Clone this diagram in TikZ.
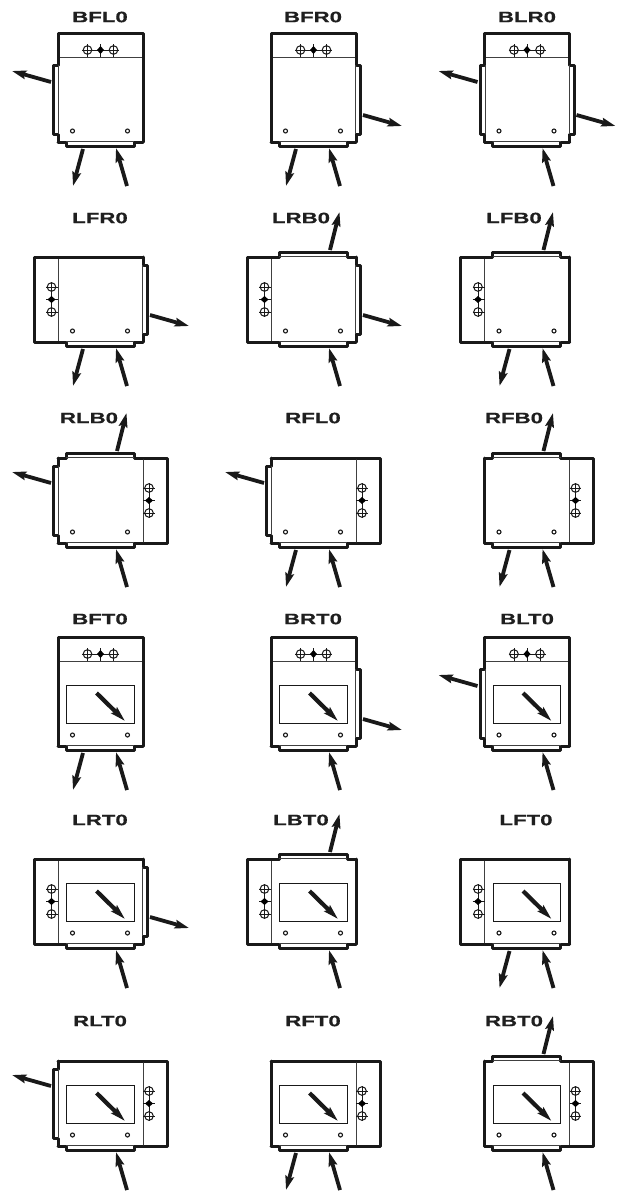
\documentclass[tikz,border=0pt]{standalone}
\usepackage{fontspec}
\setmainfont{Liberation Sans}
\newfontfamily\lblfont[FakeStretch=1.48,FakeBold=0.6]{Liberation Sans Bold}
\usetikzlibrary{arrows.meta}
\tikzset{
  heavy/.style={line width=3pt,line join=round,line cap=round,black!90},
  hair/.style={line width=1pt,black!75},
  fine/.style={line width=1pt,black!90},
  flow/.style={line width=3.8pt,black!90,-{Stealth[length=14pt,width=8.5pt,inset=2pt]}},
  needle/.style={line width=4.2pt,black!90,-{Stealth[length=15pt,width=8pt,inset=2pt]}},
  tag/.style={font=\lblfont\fontsize{15}{15}\selectfont,inner sep=0pt,text=black!88},
  hole/.style={line width=1.1pt,black!90,fill=white}
}
% sides of the body square (origin at its top-left corner, 85 wide)
\newcommand{\plainT}{\draw[heavy] (0,0)--(85,0);}
\newcommand{\plainB}{\draw[heavy] (0,85)--(85,85);}
\newcommand{\plainL}{\draw[heavy] (0,0)--(0,85);}
\newcommand{\plainR}{\draw[heavy] (85,0)--(85,85);}
\newcommand{\brT}{\draw[heavy] (0,0)--(8,0)--(8,-4.5)--(76,-4.5)--(76,0)--(85,0);\draw[hair] (8,-.5)--(76,-.5);}
\newcommand{\brB}{\draw[heavy] (0,85)--(8,85)--(8,89.5)--(76,89.5)--(76,85)--(85,85);\draw[hair] (8,84.5)--(76,84.5);}
\newcommand{\brL}{\draw[heavy] (0,0)--(0,8)--(-4.5,8)--(-4.5,77)--(0,77)--(0,85);\draw[hair] (.5,8)--(.5,77);}
\newcommand{\brR}{\draw[heavy] (85,0)--(85,8)--(89.5,8)--(89.5,77)--(85,77)--(85,85);\draw[hair] (84.5,8)--(84.5,77);}
\newcommand{\bandT}{%
  \draw[heavy] (0,0)--(0,-24)--(85,-24)--(85,0);
  \draw[hair] (0,0)--(85,0);
  \foreach \cx in {29.5,55.5}{\draw[fine] (\cx,-7) circle (4.3); \draw[fine] (\cx,-13)--(\cx,0);}
  \draw[fine] (24,-7)--(61,-7) (42.5,-13)--(42.5,0);
  \fill (42.5,-11)--(46,-7)--(42.5,-3)--(39,-7)--cycle;
}
\newcommand{\bandL}{%
  \draw[heavy] (0,0)--(-24,0)--(-24,85)--(0,85);
  \draw[hair] (0,0)--(0,85);
  \foreach \cy in {30,55}{\draw[fine] (-6.5,\cy) circle (4.3); \draw[fine] (-12,\cy)--(0,\cy);}
  \draw[fine] (-6.5,25)--(-6.5,60) (-12,42.5)--(0,42.5);
  \fill (-6.5,39)--(-2.5,42.5)--(-6.5,46)--(-10.5,42.5)--cycle;
}
\newcommand{\bandR}{%
  \draw[heavy] (85,0)--(109,0)--(109,85)--(85,85);
  \draw[hair] (85,0)--(85,85);
  \foreach \cy in {30,55}{\draw[fine] (91,\cy) circle (4.3); \draw[fine] (85,\cy)--(96.5,\cy);}
  \draw[fine] (91,25)--(91,60) (85,42.5)--(96.5,42.5);
  \fill (91,39)--(95,42.5)--(91,46)--(87,42.5)--cycle;
}
\newcommand{\arw}[5]{%
  \coordinate (\uname-#1-s) at (#2,#3);
  \coordinate (\uname-#1-e) at (#4,#5);
  \draw[flow] (\uname-#1-s) -- (\uname-#1-e);}
\newcommand{\arL}{\arw{left}{-7}{25}{-46}{14}}
\newcommand{\arR}{\arw{right}{92}{58}{131}{69}}
\newcommand{\arU}{\arw{up}{59}{-7}{68.5}{-45}}
\newcommand{\arO}{\arw{out}{25}{92}{15}{129}}
\newcommand{\arI}{\arw{in}{69}{129}{58}{91}}
\newcommand{\win}{%
  \draw[fine] (8.5,24) rectangle (76,62);
  \coordinate (\uname-n-s) at (38.5,32);
  \coordinate (\uname-n-e) at (67,60);
  \draw[needle] (\uname-n-s) -- (\uname-n-e);}
% #1 name, #2 x0, #3 y0, #4 label x, #5 label y, #6 feature list
\newcommand{\unit}[6]{%
  \node[tag] (lbl-#1) at (#4,#5) {#1};
  \begin{scope}[shift={(#2,#3)}]
    \def\uname{#1}
    #6
    \draw[hole] (14.5,74) circle (2);
    \draw[hole] (69.5,74) circle (2);
  \end{scope}}
\begin{document}
\begin{tikzpicture}[x=1pt,y=-1pt]
\useasboundingbox (0,0) rectangle (619,1191);
\fill[white] (0,0) rectangle (619,1191);
\def\xa{58}\def\xb{271}\def\xc{484.5}
\unit{BFL0}{\xa}{57}{100}{17}{\bandT\plainR\brL\brB\arL\arO\arI}
\unit{BFR0}{\xb}{57}{313}{17}{\bandT\plainL\brR\brB\arR\arO\arI}
\unit{BLR0}{\xc}{57}{527}{17}{\bandT\brL\brR\brB\arL\arR\arI}
\unit{LFR0}{\xa}{257}{100}{218}{\bandL\plainT\brR\brB\arR\arO\arI}
\unit{LRB0}{\xb}{257}{301}{218}{\bandL\brT\brR\brB\arU\arR\arI}
\unit{LFB0}{\xc}{257}{514}{218}{\bandL\brT\plainR\brB\arU\arO\arI}
\unit{RLB0}{\xa}{458}{89}{418}{\bandR\brT\brL\brB\arU\arL\arI}
\unit{RFL0}{\xb}{458}{313}{418}{\bandR\plainT\brL\brB\arL\arO\arI}
\unit{RFB0}{\xc}{458}{514}{418}{\bandR\brT\plainL\brB\arU\arO\arI}
\unit{BFT0}{\xa}{661}{100}{619}{\bandT\plainL\plainR\brB\win\arO\arI}
\unit{BRT0}{\xb}{661}{313}{619}{\bandT\plainL\brR\brB\win\arR\arI}
\unit{BLT0}{\xc}{661}{527}{619}{\bandT\brL\plainR\brB\win\arL\arI}
\unit{LRT0}{\xa}{859}{100}{820}{\bandL\plainT\brR\brB\win\arR\arI}
\unit{LBT0}{\xb}{859}{301}{820}{\bandL\brT\plainR\brB\win\arU\arI}
\unit{LFT0}{\xc}{859}{526}{820}{\bandL\plainT\plainR\brB\win\arO\arI}
\unit{RLT0}{\xa}{1061}{100}{1021}{\bandR\plainT\brL\brB\win\arL\arI}
\unit{RFT0}{\xb}{1061}{313}{1021}{\bandR\plainT\plainL\brB\win\arO\arI}
\unit{RBT0}{\xc}{1061}{514}{1021}{\bandR\brT\plainL\brB\win\arU\arI}
\end{tikzpicture}
\end{document}
